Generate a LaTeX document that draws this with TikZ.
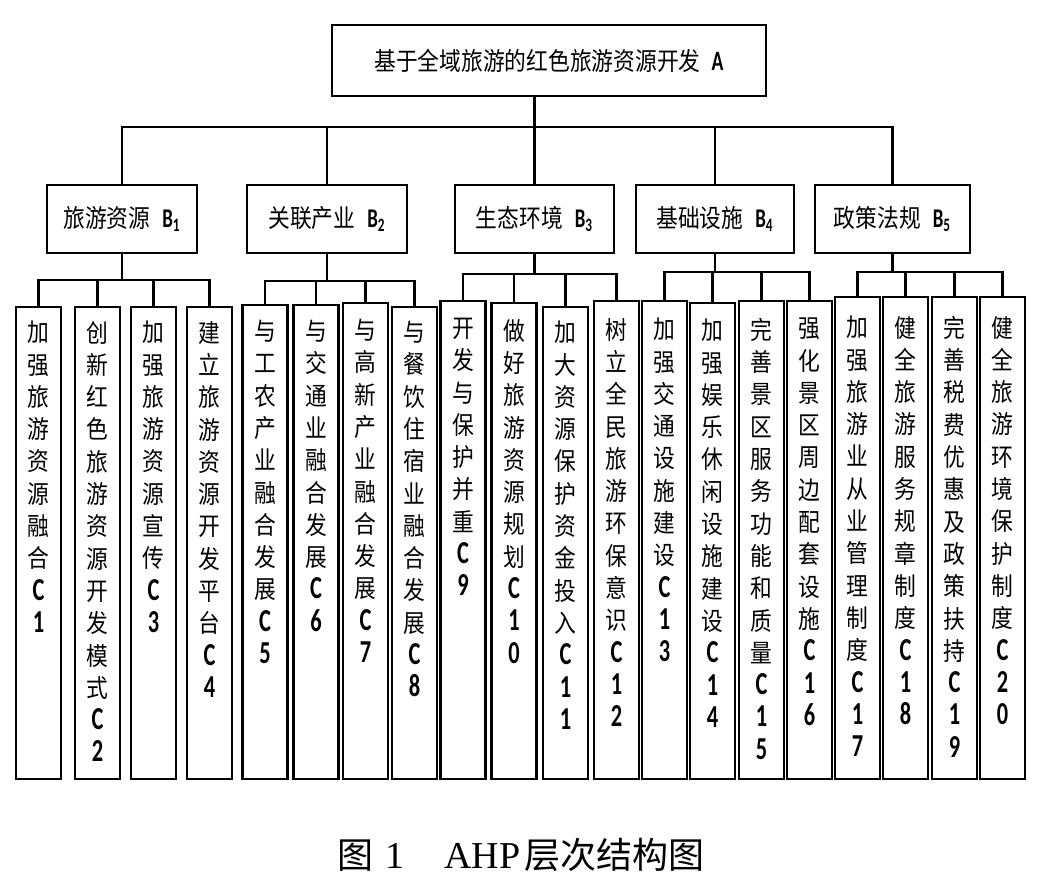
\documentclass[tikz,border=0pt]{standalone}
\usepackage{fontspec}
\setmainfont{Noto Sans CJK SC}[FakeStretch=0.87]
\newfontfamily\lat{Carlito}[FakeStretch=0.7]
\newfontfamily\capfont{Liberation Serif}
\newfontfamily\capcjk{Noto Sans CJK SC}

\makeatletter
\newcommand\vt[2]{\edef\vt@arg{{#1}{#2}}\expandafter\vt@i\vt@arg}
\def\vt@i#1#2{\vbox to 222pt{\baselineskip=16.15pt
  \@tfor\ch:=#1\do{\hbox to 12pt{\hss\ch\hss}}%
  {\lat\bfseries\fontsize{16}{16.15}\selectfont
   \@tfor\ch:=C#2\do{\hbox to 12pt{\hss\ch\hss}}}%
  \vss}}
\makeatother
\newcommand\bl[1]{{\lat\bfseries\fontsize{13.5}{16}\selectfont B\textsubscript{#1}}}

\begin{document}
\begin{tikzpicture}[x=0.5pt,y=-0.5pt,
  every node/.style={font=\fontsize{12.5}{16}\selectfont},
  box/.style={draw,line width=1.1pt,inner sep=0pt},
  abox/.style={box,minimum width=217pt,minimum height=35.5pt},
  bbox/.style={box,minimum height=34pt},
  cbox/.style={box,minimum width=22.5pt,anchor=north},
  link/.style={line width=1.1pt,line cap=rect}]
  \useasboundingbox (0,0) rectangle (1058,885);

  \node (a) [abox] at (549,60.5) {基于全域旅游的红色旅游资源开发\hspace{5.5pt}{\lat\bfseries\fontsize{14}{16}\selectfont A}};

  \node (b1) [bbox,minimum width=75pt] at (122,219) {旅游资源\hspace{6pt}\bl{1}};
  \node (b2) [bbox,minimum width=80pt] at (327,219) {关联产业\hspace{6pt}\bl{2}};
  \node (b3) [bbox,minimum width=79.5pt] at (534.5,219) {生态环境\hspace{6pt}\bl{3}};
  \node (b4) [bbox,minimum width=79pt] at (715,219) {基础设施\hspace{6pt}\bl{4}};
  \node (b5) [bbox,minimum width=77.5pt] at (892.5,219) {政策法规\hspace{6pt}\bl{5}};

  \foreach \n/\x/\tp/\txt in {1/38.5/306/加强旅游资源融合, 2/97.5/306/创新红色旅游资源开发模式,
      3/153.5/306/加强旅游资源宣传, 4/209.5/306/建立旅游资源开发平台,
      5/265/304/与工农产业融合发展, 6/316/304/与交通业融合发展,
      7/365.5/302/与高新产业融合发展, 8/414.5/306/与餐饮住宿业融合发展,
      9/463/300/开发与保护并重, 10/514/302/做好旅游资源规划,
      11/565.5/306/加大资源保护资金投入, 12/616.5/300/树立全民旅游环保意识,
      13/664.5/300/加强交通设施建设, 14/712.5/302/加强娱乐休闲设施建设,
      15/761.5/300/完善景区服务功能和质量, 16/809.5/300/强化景区周边配套设施,
      17/857.5/296/加强旅游业从业管理制度, 18/905.5/296/健全旅游服务规章制度,
      19/954.5/296/完善税费优惠及政策扶持, 20/1002.5/296/健全旅游环境保护制度} {
    \pgfmathsetmacro\h{(778-\tp)/2}
    \node (c\n) [cbox,minimum height=\h pt] at (\x,\tp) {\vt{\txt}{\n}};
  }

  \coordinate (busa) at (0,127);
  \draw[link] (b1.north) |- (b5.north |- busa) -- (b5.north);
  \foreach \b in {2,4} \draw[link] (b\b.north) -- (b\b.north |- busa);
  \draw[link] (a.south -| b3.north) -- (b3.north);

  \foreach \b/\y in {1/280,2/281,3/274,4/272,5/272} {
    \coordinate (bus\b) at (0,\y);
    \pgfmathtruncatemacro\f{4*\b-3}
    \pgfmathtruncatemacro\l{4*\b}
    \draw[link] (b\b.south) -- (b\b.south |- bus\b);
    \draw[link] (c\f.north |- bus\b) -- (c\l.north |- bus\b);
    \foreach \n in {\f,...,\l} \draw[link] (c\n.north) -- (c\n.north |- bus\b);
  }

  \node (cap) at (521,855) [font=\fontsize{18}{20}\capcjk] {图\hspace{6pt}{\capfont\fontsize{19}{20}\selectfont 1\hspace{20pt}AHP}\hspace{2pt}层次结构图};
\end{tikzpicture}
\end{document}
